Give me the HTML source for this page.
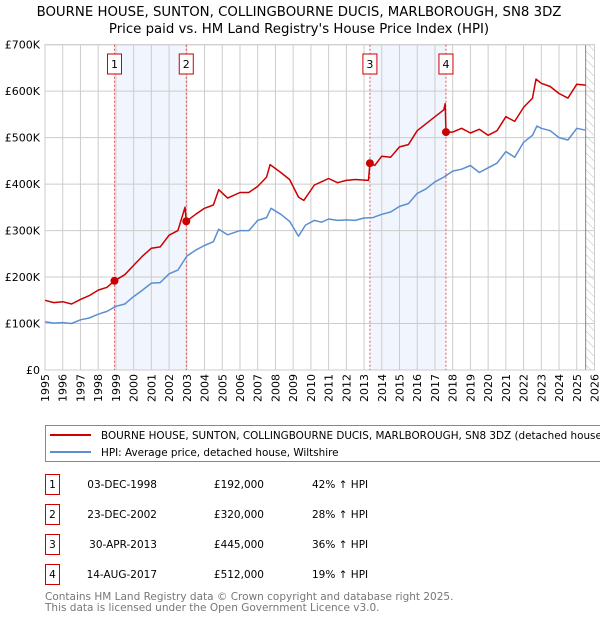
<!DOCTYPE html>
<html><head><meta charset="utf-8"><style>
body{margin:0;background:#fff;font-family:"DejaVu Sans","Liberation Sans",sans-serif;}
#wrap{position:relative;width:600px;height:620px;overflow:hidden;}
text{font-family:"DejaVu Sans","Liberation Sans",sans-serif;}
</style></head><body><div id="wrap">
<svg id="svg" width="600" height="620" xmlns="http://www.w3.org/2000/svg">
<defs><pattern id="hatch" width="6" height="6" patternUnits="userSpaceOnUse" patternTransform="rotate(-45)"><line x1="0" y1="0" x2="0" y2="6" stroke="#bbb" stroke-width="1"/></pattern></defs>
<text x="299" y="16" text-anchor="middle" font-size="13.3">BOURNE HOUSE, SUNTON, COLLINGBOURNE DUCIS, MARLBOROUGH, SN8 3DZ</text>
<text x="299" y="33" text-anchor="middle" font-size="13.3">Price paid vs. HM Land Registry's House Price Index (HPI)</text>
<g id="plot"></g>
<rect x="45.5" y="425.5" width="570" height="36" fill="#fff" stroke="#888"/>
<line x1="50" y1="435" x2="91" y2="435" stroke="#cc0000" stroke-width="2"/>
<text x="101" y="439" font-size="10.4">BOURNE HOUSE, SUNTON, COLLINGBOURNE DUCIS, MARLBOROUGH, SN8 3DZ (detached house)</text>
<line x1="50" y1="452" x2="91" y2="452" stroke="#5b8fd0" stroke-width="2"/>
<text x="101" y="456" font-size="10.4">HPI: Average price, detached house, Wiltshire</text>
<g id="table"></g>
<text x="45" y="600" font-size="10.5" fill="#777">Contains HM Land Registry data © Crown copyright and database right 2025.</text>
<text x="45" y="611" font-size="10.5" fill="#777">This data is licensed under the Open Government Licence v3.0.</text>
</svg>
<script>
const hpiYears=[1995,1995.5,1996,1996.5,1997,1997.5,1998,1998.5,1999,1999.5,2000,2000.5,2001,2001.5,2002,2002.5,2003,2003.5,2004,2004.5,2004.8,2005.3,2006,2006.5,2007,2007.5,2007.75,2008.3,2008.8,2009.3,2009.7,2010.2,2010.6,2011,2011.5,2012,2012.5,2013,2013.5,2014,2014.5,2015,2015.5,2016,2016.5,2017,2017.5,2018,2018.5,2019,2019.5,2020,2020.5,2021,2021.5,2022,2022.5,2022.75,2023,2023.5,2024,2024.5,2025,2025.5];
const hpiValues=[104,101,102,100,108,112,120,126,137,142,158,172,187,188,207,215,245,258,268,276,303,291,300,300,322,328,348,335,320,288,312,322,318,325,322,323,322,327,328,335,340,352,358,380,390,405,415,428,432,440,425,435,445,470,458,490,505,525,520,515,500,495,520,516];
const ppYears=[1995,1995.5,1996,1996.5,1997,1997.5,1998,1998.5,1998.92,1999.5,2000,2000.5,2001,2001.5,2002,2002.5,2002.9,2002.97,2003.5,2004,2004.5,2004.8,2005.3,2006,2006.5,2007,2007.5,2007.7,2008.3,2008.8,2009.3,2009.6,2010.2,2010.6,2011,2011.5,2012,2012.5,2013.25,2013.33,2013.6,2014,2014.5,2015,2015.5,2016,2016.5,2017,2017.5,2017.58,2017.62,2018,2018.5,2019,2019.5,2020,2020.5,2021,2021.5,2022,2022.5,2022.7,2023,2023.5,2024,2024.5,2025,2025.5];
const ppValues=[150,145,147,142,152,160,172,178,192,205,225,245,262,265,290,300,350,320,335,348,355,388,370,382,382,395,415,442,425,410,372,365,398,405,412,403,408,410,408,445,440,460,458,480,485,515,530,545,560,573,512,512,520,510,518,505,515,545,535,565,585,626,617,610,595,585,615,613];
const saleYears=[1998.92,2002.97,2013.33,2017.62];
const saleValues=[192,320,445,512];
const saleLabels=["1","2","3","4"];
const saleDates=["03-DEC-1998","23-DEC-2002","30-APR-2013","14-AUG-2017"];
const salePrices=["£192,000","£320,000","£445,000","£512,000"];
const saleDiffs=["42% ↑ HPI","28% ↑ HPI","36% ↑ HPI","19% ↑ HPI"];
const yTicks=[0,100,200,300,400,500,600,700];
const yTickLabels=["£0","£100K","£200K","£300K","£400K","£500K","£600K","£700K"];
const xTicks=[1995,1996,1997,1998,1999,2000,2001,2002,2003,2004,2005,2006,2007,2008,2009,2010,2011,2012,2013,2014,2015,2016,2017,2018,2019,2020,2021,2022,2023,2024,2025,2026];

const X0=45,X1=594.5,Y0=370,Y1=44.7;
const xs=y=>X0+(y-1995)/(2026-1995)*(X1-X0);
const ys=v=>Y0-v/700*(Y0-Y1);
const NS="http://www.w3.org/2000/svg";
const plot=document.getElementById('plot');
function mk(tag,attrs,parent){const e=document.createElementNS(NS,tag);for(const k in attrs)e.setAttribute(k,attrs[k]);(parent||plot).appendChild(e);return e;}
for(let i=0;i<4;i+=2){const r=mk('rect',{x:xs(saleYears[i]),y:Y1,width:xs(saleYears[i+1])-xs(saleYears[i]),height:Y0-Y1,fill:'#eef3fd',opacity:0.8});

}
xTicks.forEach(t=>{const l=mk('line',{x1:xs(t),x2:xs(t),y1:Y1,y2:Y0,stroke:'#ccc','stroke-width':1});


const tx=mk('text',{x:0,y:0,'font-size':11,'text-anchor':'end',transform:`translate(${xs(t)+4},${Y0+4}) rotate(-90)`});tx.textContent=t;

});
yTicks.forEach((t,i)=>{const l=mk('line',{x1:X0,x2:X1,y1:ys(t),y2:ys(t),stroke:'#ccc','stroke-width':1});


const tx=mk('text',{x:X0-5,y:ys(t)+4,'font-size':11,'text-anchor':'end'});tx.textContent=yTickLabels[i];

});
const hx=xs(2025.5);
const h=mk('rect',{x:hx,y:Y1,width:X1-hx,height:Y0-Y1,fill:'url(#hatch)'});


const hl=mk('line',{x1:hx,x2:hx,y1:Y1,y2:Y0,stroke:'#888'});


const fr=mk('rect',{x:X0,y:Y1,width:X1-X0,height:Y0-Y1,fill:'none',stroke:'#ccc'});


saleYears.forEach((y,i)=>{const l=mk('line',{x1:xs(y),x2:xs(y),y1:Y1,y2:Y0,stroke:'#e85050','stroke-dasharray':'2,2','stroke-width':1});


const b=mk('rect',{x:xs(y)-7,y:54,width:14,height:20,fill:'#fff',stroke:'#cc0000'});


const t=mk('text',{x:xs(y),y:68,'font-size':11,'text-anchor':'middle'});t.textContent=saleLabels[i];

});
function line(xa,va,col,name){const d=xa.map((y,i)=>(i?'L':'M')+xs(y).toFixed(1)+','+ys(va[i]).toFixed(1)).join('');
const p=mk('path',{d:d,fill:'none',stroke:col,'stroke-width':1.5,'stroke-linejoin':'round'});

}
line(hpiYears,hpiValues,'#5b8fd0','hpi-line');
line(ppYears,ppValues,'#cc0000','property-price-line');
saleYears.forEach((y,i)=>{const c=mk('circle',{cx:xs(y),cy:ys(saleValues[i]),r:4,fill:'#cc0000'});

});
const tb=document.getElementById('table');
saleLabels.forEach((s,i)=>{const cy=484+i*30;
const b=mk('rect',{x:45.5,y:cy-9.5,width:14,height:20,fill:'#fff',stroke:'#cc0000'},tb);


const cols=[[52.5,s,'middle'],[157,saleDates[i],'end'],[264,salePrices[i],'end'],[312,saleDiffs[i],'start']];
cols.forEach(c=>{const t=mk('text',{x:c[0],y:cy+4,'font-size':10.5,'text-anchor':c[2]},tb);t.textContent=c[1];

});});
</script>
</div></body></html>
